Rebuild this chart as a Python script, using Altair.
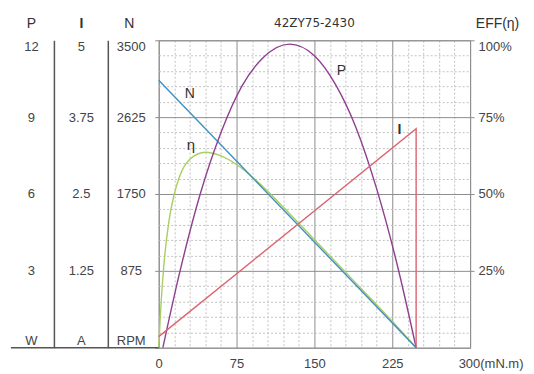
import altair as alt
import pandas as pd

# ---- data ----
torque_speed = [0, 248]
speed_rpm = [3045, 0]

torque_current = [0, 248, 248]
current_a = [0.18, 3.56, 0.0]

torque_power = [4, 20, 40, 60, 80, 100, 126, 150, 170, 190, 210, 230, 248]
power_w = [0, 2.9, 6.0, 8.4, 10.2, 11.3, 11.85, 11.4, 10.3, 8.6, 6.2, 3.2, 0]

torque_eff = [0, 2, 5, 10, 15, 20, 30, 45, 60, 75, 100, 125, 150, 175, 200, 225, 248]
eff_pct = [0, 13, 27, 41.5, 50, 55.6, 61.3, 63.6, 62.4, 59.6, 52.5, 44, 35.2, 26.3, 17.5, 8.6, 0]

# curve labels (torque, value in that curve's unit)
label_N = (30, 2888)
label_I = (232, 3.54)
label_P = (176, 10.8)
label_E = (31, 66)

chart_title = "42ZY75-2430"

x_ticks = list(range(0, 301, 15))
n_ticks = list(range(0, 3501, 175))
i_ticks = [0, 1.25, 2.5, 3.75, 5]
p_ticks = [0, 3, 6, 9, 12]
e_ticks = [25, 50, 75, 100]

FONT = "Liberation Sans"
TXT = "#444444"
C_N = "#3f8fc2"
C_I = "#dc6470"
C_P = "#8f3f90"
C_E = "#a9cf62"
MINOR = "#c2c2c2"
MAJOR = "#8e8e8e"

x_axis = alt.Axis(
    values=x_ticks,
    grid=True,
    gridColor={"condition": {"test": "datum.value % 75 == 0", "value": MAJOR}, "value": MINOR},
    gridDash={"condition": {"test": "datum.value % 75 == 0", "value": []}, "value": [2, 2]},
    gridWidth=1,
    ticks=False,
    domain=False,
    labelExpr="datum.value % 75 == 0 ? (datum.value == 300 ? '300(mN.m)' : '' + datum.value) : ''",
    labelAlign={"condition": {"test": "datum.value == 300", "value": "left"}, "value": "center"},
    labelOffset={"condition": {"test": "datum.value == 300", "value": -12}, "value": 0},
    labelPadding=10,
    labelOverlap=False,
    labelFont=FONT,
    labelFontSize=13,
    labelColor=TXT,
    title=None,
)
x_enc = alt.X("t:Q", scale=alt.Scale(domain=[0, 300], nice=False), axis=x_axis)

def left_axis(values, label0, offset, pad, title, tx, bold=False, major=None, grid=False):
    kw = dict(
        orient="left",
        offset=offset,
        values=values,
        labelExpr=(
            f"datum.value == 0 ? '{label0}' : "
            + (f"(datum.value % {major} == 0 ? '' + datum.value : '')" if major else "'' + datum.value")
        ),
        labelAlign="center",
        labelFlush=True,
        labelPadding=pad,
        labelOverlap=False,
        labelFont=FONT,
        labelFontSize=13,
        labelColor=TXT,
        title=title,
        titleAngle=0,
        titleX=tx,
        titleY=-17,
        titleAlign="center",
        titleBaseline="middle",
        titleFont=FONT,
        titleFontSize=14,
        titleFontWeight="bold" if bold else "normal",
        titleColor="#333333",
    )
    if grid:
        kw.update(
            grid=True,
            gridColor={"condition": {"test": f"datum.value % {major} == 0", "value": MAJOR}, "value": MINOR},
            gridDash={"condition": {"test": f"datum.value % {major} == 0", "value": []}, "value": [2, 2]},
            gridWidth=1,
            ticks=True,
            tickSize=4,
            tickColor=MAJOR,
            tickOpacity={"condition": {"test": f"datum.value % {major} == 0", "value": 1}, "value": 0},
            domain=False,
        )
    else:
        kw.update(grid=False, ticks=False, domain=True, domainColor="#555555", domainWidth=1.5)
    return alt.Axis(**kw)

# ---- N layer (owns the grid) ----
df_n = pd.DataFrame({"t": torque_speed, "rpm": speed_rpm})
y_n = alt.Y("rpm:Q", scale=alt.Scale(domain=[0, 3500], nice=False),
            axis=left_axis(n_ticks, "RPM", 0, 24, "N", -30, major=875, grid=True))
n_line = alt.Chart(df_n).mark_line(color=C_N, strokeWidth=1.4).encode(x=x_enc, y=y_n)
n_text = alt.Chart(pd.DataFrame({"t": [label_N[0]], "rpm": [label_N[1]], "s": ["N"]})).mark_text(
    font=FONT, fontSize=14, color="#333333").encode(x=x_enc, y=y_n, text="s:N")
layer_n = alt.layer(n_line, n_text)

# ---- I layer ----
df_i = pd.DataFrame({"t": torque_current, "amp": current_a, "o": list(range(len(current_a)))})
y_i = alt.Y("amp:Q", scale=alt.Scale(domain=[0, 5], nice=False),
            axis=left_axis(i_ticks, "A", 51, 27, "I", -27, bold=True))
i_line = alt.Chart(df_i).mark_line(color=C_I, strokeWidth=1.4).encode(x=x_enc, y=y_i, order="o:Q")
i_text = alt.Chart(pd.DataFrame({"t": [label_I[0]], "amp": [label_I[1]], "s": ["I"]})).mark_text(
    font=FONT, fontSize=14, fontWeight="bold", color="#333333").encode(x=x_enc, y=y_i, text="s:N")
layer_i = alt.layer(i_line, i_text)

# ---- P layer ----
df_p = pd.DataFrame({"t": torque_power, "watt": power_w})
y_p = alt.Y("watt:Q", scale=alt.Scale(domain=[0, 12], nice=False),
            axis=left_axis(p_ticks, "W", 105, 23, "P", -23))
p_line = alt.Chart(df_p).mark_line(color=C_P, strokeWidth=1.4, interpolate="monotone").encode(x=x_enc, y=y_p)
p_text = alt.Chart(pd.DataFrame({"t": [label_P[0]], "watt": [label_P[1]], "s": ["P"]})).mark_text(
    font=FONT, fontSize=14, color="#333333").encode(x=x_enc, y=y_p, text="s:N")
layer_p = alt.layer(p_line, p_text)

# ---- efficiency layer ----
df_e = pd.DataFrame({"t": torque_eff, "eff": eff_pct})
y_e = alt.Y("eff:Q", scale=alt.Scale(domain=[0, 100], nice=False),
            axis=alt.Axis(orient="right", values=e_ticks, labelExpr="datum.value + '%'",
                          grid=False, ticks=True, tickSize=4, tickColor=MAJOR, domain=False,
                          labelFlush=True, labelPadding=4, labelAlign="left", labelOverlap=False,
                          labelFont=FONT, labelFontSize=13, labelColor=TXT,
                          title="EFF(η)", titleAngle=0, titleX=27, titleY=-17,
                          titleAlign="center", titleBaseline="middle",
                          titleFont=FONT, titleFontSize=14, titleFontWeight="normal",
                          titleColor="#333333"))
e_line = alt.Chart(df_e).mark_line(color=C_E, strokeWidth=1.4, interpolate="monotone").encode(x=x_enc, y=y_e)
e_text = alt.Chart(pd.DataFrame({"t": [label_E[0]], "eff": [label_E[1]], "s": ["η"]})).mark_text(
    font=FONT, fontSize=15, color="#333333").encode(x=x_enc, y=y_e, text="s:N")
layer_e = alt.layer(e_line, e_text)

# bottom line under the left label columns
base_rule = alt.Chart(pd.DataFrame({"a": [0]})).mark_rule(color="#555555", strokeWidth=1.5).encode(
    x=alt.value(-148), x2=alt.value(0), y=alt.value(308))

# chart title placed inside the header row, centred over the plot
title_text = alt.Chart(pd.DataFrame({"s": [chart_title]})).mark_text(
    font="DejaVu Sans", fontSize=12, color="#333333", baseline="middle", align="center"
).encode(x=alt.value(156), y=alt.value(-17), text="s:N")

chart = alt.layer(layer_e, layer_n, layer_p, layer_i, base_rule, title_text).resolve_scale(
    y="independent"
).properties(
    width=312,
    height=308,
    padding={"left": 2, "top": 8, "right": 2, "bottom": 2},
).configure_view(stroke=MAJOR, strokeWidth=1)

chart.save("out.html", embed_options={"renderer": "svg", "actions": False})
